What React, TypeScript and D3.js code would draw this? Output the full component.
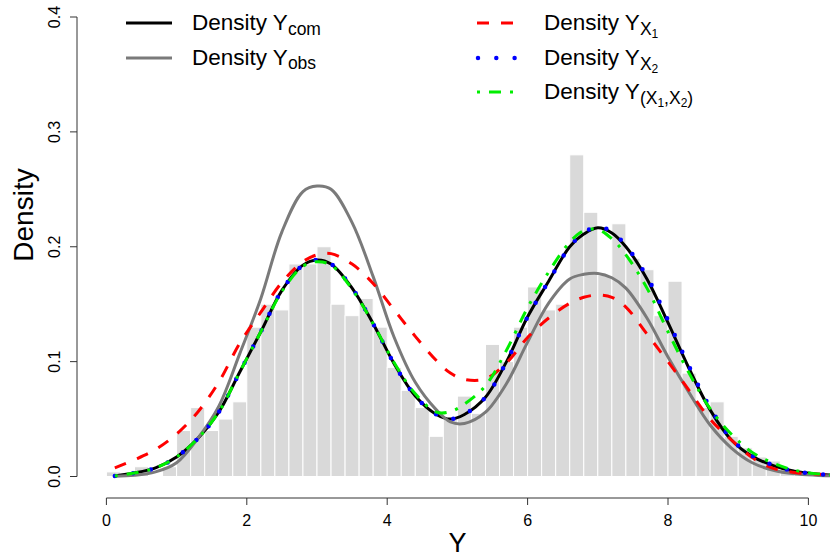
import React from "react";
import * as d3 from "d3";

// Histogram (bin width 0.2, starting at 0)
const binStart = 0;
const binWidth = 0.2;
const histDensity = [
  0.004, 0, 0.0085, 0, 0.0085, 0.04, 0.06, 0.04, 0.05, 0.065,
  0.13, 0.15, 0.145, 0.185, 0.185, 0.2, 0.15, 0.14, 0.155, 0.13,
  0.095, 0.075, 0.06, 0.035, 0.05, 0.07, 0.055, 0.115, 0.1, 0.13,
  0.165, 0.145, 0.15, 0.28, 0.23, 0.175, 0.22, 0.19, 0.18, 0.14,
  0.17, 0.09, 0.06, 0.065, 0.035, 0.025, 0.017, 0.0135, 0.007, 0.004,
  0.003,
];

// Density curves sampled on a common grid of Y values
const gridY = [
  0.12, 0.4, 0.7, 1.0, 1.3, 1.6, 1.9, 2.2, 2.5, 2.8, 3.0, 3.2, 3.5, 3.8, 4.1,
  4.4, 4.7, 4.9, 5.1, 5.4, 5.7, 6.0, 6.3, 6.6, 6.8, 7.0, 7.2, 7.4, 7.7, 8.0,
  8.3, 8.6, 8.9, 9.2, 9.5, 9.8, 10.1, 10.35,
];
const densCom = [
  0.0005, 0.003, 0.0075, 0.017, 0.033, 0.056, 0.091, 0.126, 0.162, 0.184,
  0.1885, 0.185, 0.164, 0.133, 0.098, 0.07, 0.054, 0.05, 0.054, 0.069,
  0.1, 0.139, 0.17, 0.2, 0.211, 0.2165, 0.212, 0.2, 0.172, 0.134,
  0.094, 0.058, 0.032, 0.0175, 0.0095, 0.0045, 0.0022, 0.0012,
];
const densObs = [
  0.0003, 0.001, 0.004, 0.012, 0.033, 0.061, 0.107, 0.155, 0.213, 0.248,
  0.2528, 0.25, 0.221, 0.174, 0.121, 0.082, 0.058, 0.0475, 0.0462, 0.056,
  0.081, 0.117, 0.151, 0.172, 0.176, 0.1768, 0.173, 0.164, 0.138, 0.104,
  0.073, 0.0448, 0.025, 0.012, 0.0055, 0.0024, 0.0011, 0.0006,
];
const densX1 = [
  0.0075, 0.0145, 0.0235, 0.037, 0.056, 0.082, 0.116, 0.143, 0.169, 0.187,
  0.193, 0.194, 0.185, 0.168, 0.145, 0.122, 0.101, 0.09, 0.0845, 0.085,
  0.099, 0.121, 0.138, 0.1508, 0.156, 0.158, 0.156, 0.1475, 0.124, 0.1,
  0.075, 0.05, 0.032, 0.0165, 0.0071, 0.0035, 0.0022, 0.0013,
];
const densX2 = [
  0.0005, 0.003, 0.0075, 0.017, 0.033, 0.056, 0.091, 0.126, 0.162, 0.184,
  0.1885, 0.185, 0.164, 0.133, 0.098, 0.07, 0.054, 0.05, 0.054, 0.069,
  0.1, 0.139, 0.17, 0.2, 0.212, 0.2175, 0.213, 0.201, 0.174, 0.136,
  0.096, 0.06, 0.033, 0.018, 0.0098, 0.0046, 0.0022, 0.0012,
];
const densX1X2 = [
  0.0005, 0.003, 0.0075, 0.017, 0.033, 0.056, 0.091, 0.126, 0.161, 0.183,
  0.187, 0.184, 0.163, 0.133, 0.099, 0.072, 0.056, 0.0565, 0.063, 0.079,
  0.11, 0.147, 0.178, 0.204, 0.214, 0.215, 0.207, 0.193, 0.164, 0.126,
  0.09, 0.059, 0.037, 0.021, 0.0115, 0.0055, 0.0025, 0.0012,
];

const xTicks = [0, 2, 4, 6, 8, 10];
const yTicks = [0, 0.1, 0.2, 0.3, 0.4];

const W = 830;
const H = 558;
const FONT = "'Liberation Sans', Arial, Helvetica, sans-serif";

export default function App() {
  const x = d3.scaleLinear().domain([0, 10]).range([106.4, 808.4]);
  const y = d3.scaleLinear().domain([0, 0.4]).range([476.5, 17]);

  const line = d3
    .line<[number, number]>()
    .x((d) => x(d[0]))
    .y((d) => y(d[1]))
    .curve(d3.curveCatmullRom.alpha(0.5));

  const series = [
    { vals: densCom, color: "#000000", dash: undefined, width: 3, cap: "butt" },
    { vals: densObs, color: "#7a7a7a", dash: undefined, width: 3, cap: "butt" },
    { vals: densX1, color: "#ff0000", dash: "12 12", width: 3, cap: "butt" },
    { vals: densX2, color: "#0000ff", dash: "0 18.3", width: 4.5, cap: "round" },
    { vals: densX1X2, color: "#00ee00", dash: "3 9 12 9", width: 3, cap: "butt" },
  ];

  const axisY = 498;
  const plotLeft = 77;

  return (
    <svg
      width={W}
      height={H}
      style={{ position: "absolute", left: 0, top: 0, background: "#fff" }}
      fontFamily={FONT}
    >
      <rect x={0} y={0} width={W} height={H} fill="#fff" />
      {/* histogram */}
      <g>
        {histDensity.map((v, i) => {
          if (v <= 0) return null;
          const x0 = x(binStart + i * binWidth);
          const x1 = x(binStart + (i + 1) * binWidth);
          return (
            <rect
              key={i}
              x={x0}
              y={y(v)}
              width={x1 - x0}
              height={y(0) - y(v)}
              fill="#d9d9d9"
              stroke="#ffffff"
              strokeWidth={1}
            />
          );
        })}
      </g>
      {/* density curves */}
      <g fill="none">
        {series.map((s, i) => (
          <path
            key={i}
            d={line(gridY.map((g, j) => [g, s.vals[j]] as [number, number])) || ""}
            stroke={s.color}
            strokeWidth={s.width}
            strokeDasharray={s.dash}
            strokeLinecap={s.cap as any}
            strokeLinejoin="round"
          />
        ))}
      </g>
      {/* y axis */}
      <g stroke="#333" strokeWidth={1} fill="none">
        <line x1={plotLeft} x2={plotLeft} y1={y(0)} y2={y(0.4)} />
        {yTicks.map((t) => (
          <line key={t} x1={plotLeft - 7} x2={plotLeft} y1={y(t)} y2={y(t)} />
        ))}
      </g>
      {yTicks.map((t) => (
        <text
          key={t}
          transform={`translate(60,${y(t)}) rotate(-90)`}
          textAnchor="middle"
          fontSize={16}
          fill="#000"
        >
          {t.toFixed(1)}
        </text>
      ))}
      <text
        transform={`translate(33,215) rotate(-90)`}
        textAnchor="middle"
        fontSize={28}
        fill="#000"
      >
        Density
      </text>
      {/* x axis */}
      <g stroke="#333" strokeWidth={1} fill="none">
        <line x1={x(0)} x2={x(10)} y1={axisY} y2={axisY} />
        {xTicks.map((t) => (
          <line key={t} x1={x(t)} x2={x(t)} y1={axisY} y2={axisY + 7} />
        ))}
      </g>
      {xTicks.map((t) => (
        <text key={t} x={x(t)} y={526} textAnchor="middle" fontSize={16} fill="#000">
          {t}
        </text>
      ))}
      <text x={x(5)} y={552} textAnchor="middle" fontSize={27} fill="#000">
        Y
      </text>
      {/* legend left */}
      <g>
        <line x1={126} x2={172} y1={23} y2={23} stroke="#000" strokeWidth={3} />
        <line x1={126} x2={172} y1={58} y2={58} stroke="#7a7a7a" strokeWidth={3} />
        <text x={192} y={30} fontSize={22.5} fill="#000">
          Density Y<tspan dy={4.5} fontSize={17.5}>com</tspan>
        </text>
        <text x={192} y={64.5} fontSize={22.5} fill="#000">
          Density Y<tspan dy={4.5} fontSize={17.5}>obs</tspan>
        </text>
      </g>
      {/* legend right */}
      <g>
        <line x1={477} x2={513} y1={23} y2={23} stroke="#ff0000" strokeWidth={3} strokeDasharray="12 12" />
        <line x1={478} x2={516} y1={58} y2={58} stroke="#0000ff" strokeWidth={4.5} strokeDasharray="0 18.3" strokeLinecap="round" />
        <line x1={477} x2={514} y1={92} y2={92} stroke="#00ee00" strokeWidth={3} strokeDasharray="3 9 12 9" />
        <text x={544} y={30} fontSize={22.5} fill="#000">
          Density Y<tspan dy={5} fontSize={17.5}>X</tspan>
          <tspan dy={3} fontSize={12}>1</tspan>
        </text>
        <text x={544} y={64.5} fontSize={22.5} fill="#000">
          Density Y<tspan dy={5} fontSize={17.5}>X</tspan>
          <tspan dy={3} fontSize={12}>2</tspan>
        </text>
        <text x={544} y={99} fontSize={22.5} fill="#000">
          Density Y<tspan dy={5} fontSize={17.5}>(X</tspan>
          <tspan dy={3} fontSize={12}>1</tspan>
          <tspan dy={-3} fontSize={17.5}>,X</tspan>
          <tspan dy={3} fontSize={12}>2</tspan>
          <tspan dy={-3} fontSize={17.5}>)</tspan>
        </text>
      </g>
    </svg>
  );
}
